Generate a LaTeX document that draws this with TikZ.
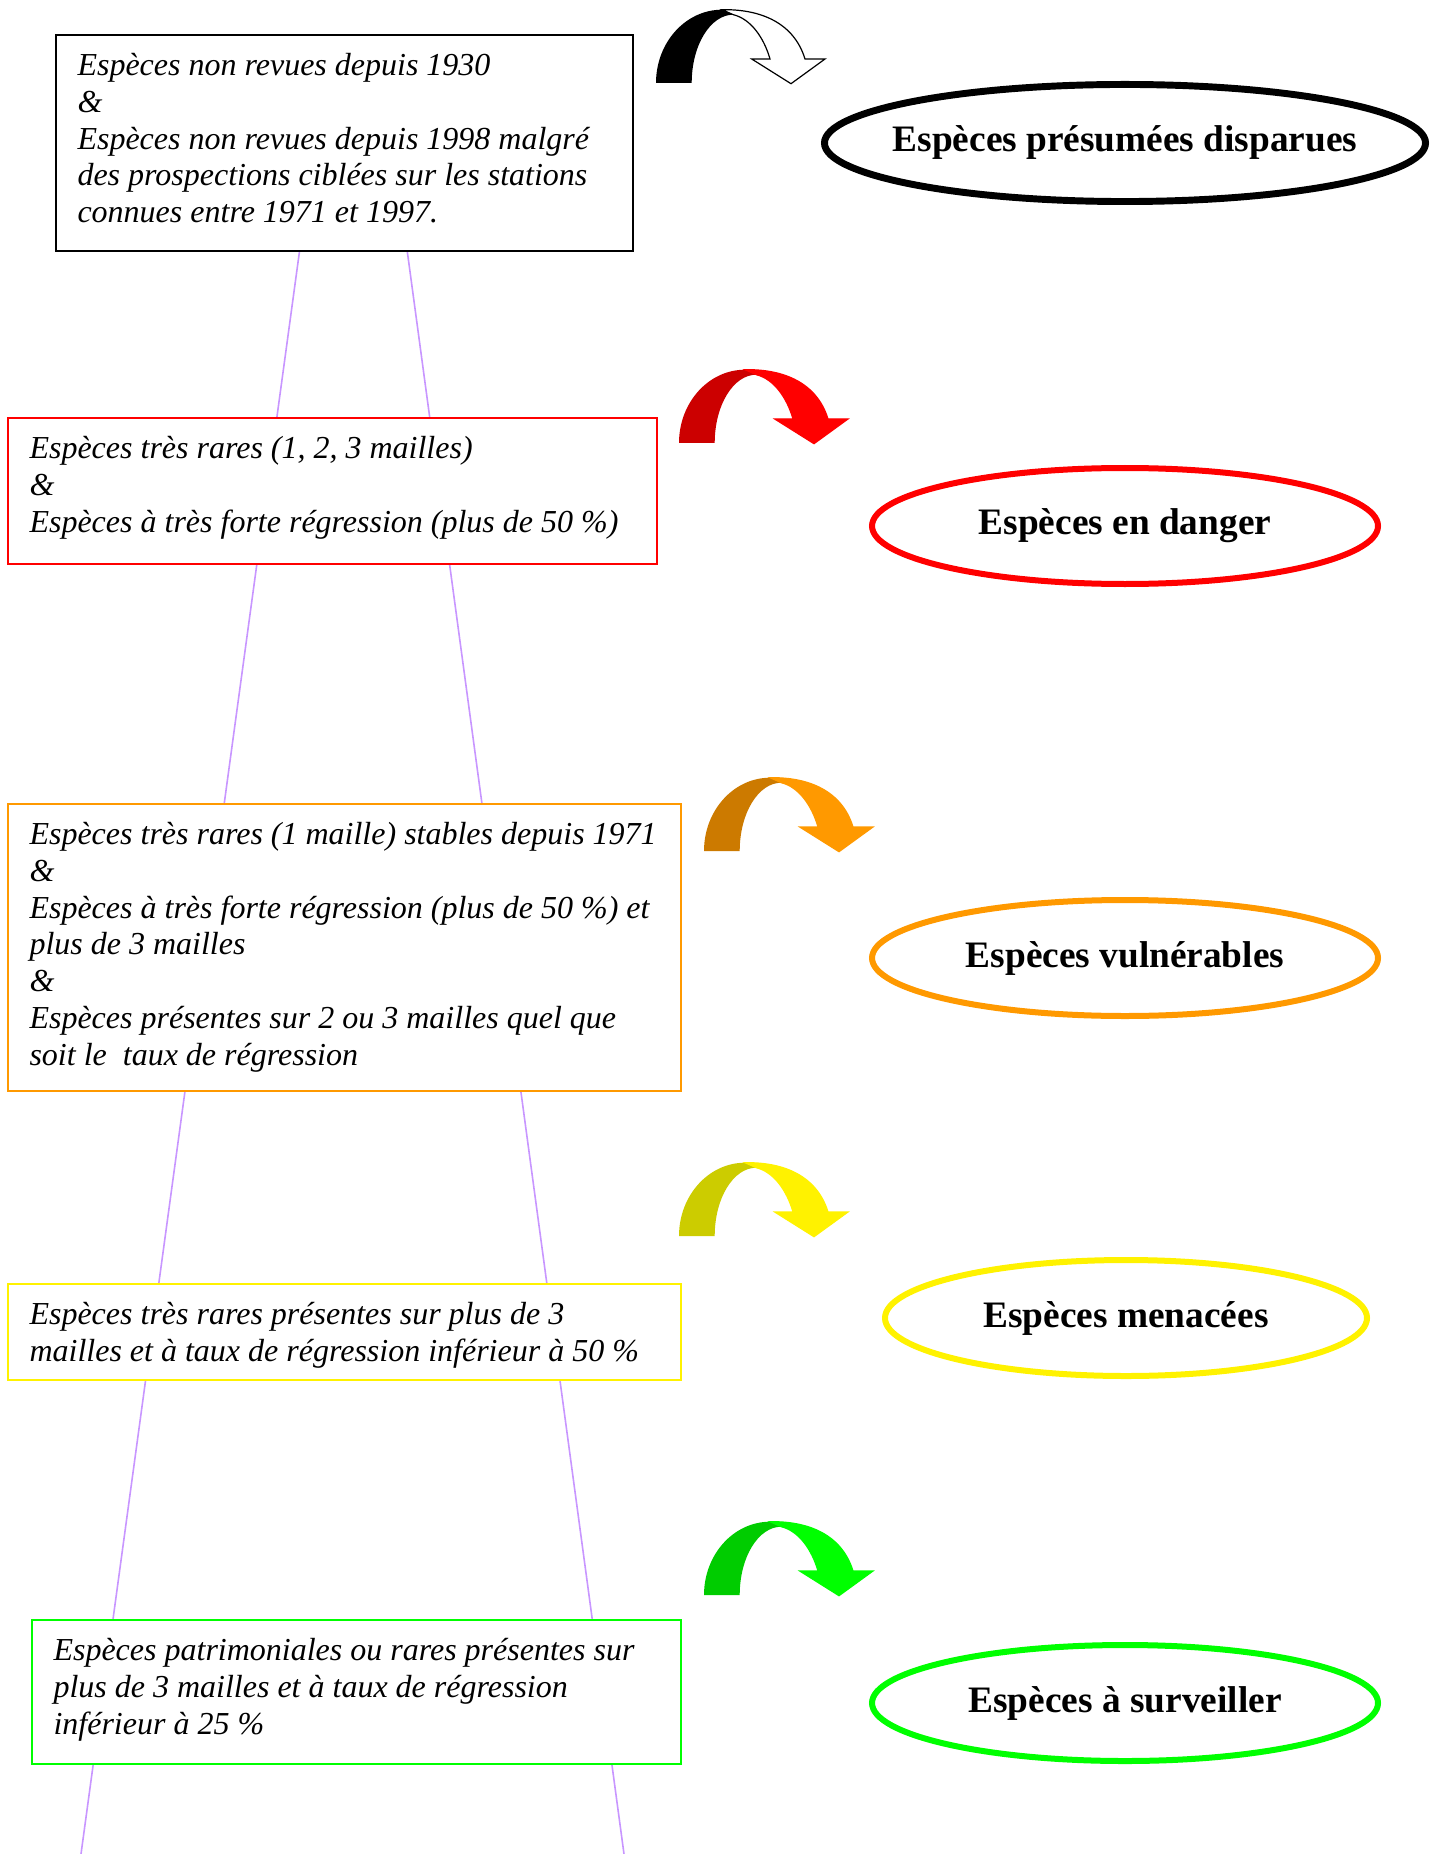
\documentclass[tikz,border=0pt]{standalone}
\usepackage{fontspec}
\setmainfont{Liberation Serif}
\usetikzlibrary{shapes.geometric}
\definecolor{lilac}{RGB}{200,150,255}
\definecolor{myorange}{RGB}{255,153,0}
\definecolor{darkorange}{RGB}{204,122,0}
\definecolor{darkred}{RGB}{204,0,0}
\definecolor{darkyellow}{RGB}{204,204,0}
\definecolor{mygreen}{RGB}{0,255,0}
\definecolor{darkgreen}{RGB}{0,204,0}
\newcommand\curvedarrow[4]{%
  \begin{scope}[shift={#1}]
    \fill[#2] (0,0) .. controls (0,-40.5) and (29.6,-73.3) .. (66,-73.3)
      -- (77.3,-68.3) .. controls (54.3,-68.3) and (35.7,-37.7) .. (35.7,0) -- cycle;
    \filldraw[fill=#3, draw=#4, line width=0.45pt, line join=miter]
      (66,-73.3) .. controls (105,-74) and (138,-60) .. (149,-24)
      -- (169,-24) -- (135,0.7) -- (95.7,-24) -- (114,-24)
      .. controls (108,-45) and (95,-64) .. (77.3,-68.3) -- cycle;
  \end{scope}}
\begin{document}
\begin{tikzpicture}[x=0.375pt,y=-0.375pt,
  critbox/.style={draw=#1, line width=0.75pt, fill=white, rectangle, inner sep=0pt, outer sep=0pt, anchor=north west},
  crittext/.style={anchor=north west, inner sep=0pt, align=left, font=\fontsize{12pt}{13.8pt}\selectfont\itshape},
  catell/.style={draw=#1, line width=2.25pt, ellipse, inner sep=0pt, fill=white},
  cattext/.style={font=\fontsize{14pt}{16pt}\selectfont\bfseries, inner sep=0pt},
  guide/.style={draw=lilac, line width=0.6pt}]
\useasboundingbox (0,0) rectangle (1440,1854);

% guide lines behind the boxes
\coordinate (gl1) at (329,35);
\coordinate (gl2) at (81,1854);
\coordinate (gr1) at (378,35);
\coordinate (gr2) at (624,1854);
\draw[guide] (gl1) -- (gl2);
\draw[guide] (gr1) -- (gr2);

% criteria boxes
\node[critbox=black, minimum width=216.4pt, minimum height=81pt] (b1) at (56,35) {};
\node[crittext] (t1) at ([shift={(21,8)}]b1.north west)
  {\rule{0pt}{12pt}Espèces non revues depuis 1930\\ \&\\ Espèces non revues depuis 1998 malgré\\ des prospections ciblées sur les stations\\ connues entre 1971 et 1997.};

\node[critbox=red, minimum width=243.4pt, minimum height=54.75pt] (b2) at (8,418) {};
\node[crittext] (t2) at ([shift={(21,8)}]b2.north west)
  {\rule{0pt}{12pt}Espèces très rares (1, 2, 3 mailles)\\ \&\\ Espèces à très forte régression (plus de 50 \%)};

\node[critbox=myorange, minimum width=252.4pt, minimum height=107.6pt] (b3) at (8,804) {};
\node[crittext] (t3) at ([shift={(21,8)}]b3.north west)
  {\rule{0pt}{12pt}Espèces très rares (1 maille) stables depuis 1971\\ \&\\ Espèces à très forte régression (plus de 50 \%) et\\ plus de 3 mailles\\ \&\\ Espèces présentes sur 2 ou 3 mailles quel que\\ soit le~ taux de régression};

\node[critbox=yellow, minimum width=252.4pt, minimum height=36pt] (b4) at (8,1284) {};
\node[crittext] (t4) at ([shift={(21,8)}]b4.north west)
  {\rule{0pt}{12pt}Espèces très rares présentes sur plus de 3\\ mailles et à taux de régression inférieur à 50 \%};

\node[critbox=mygreen, minimum width=243.4pt, minimum height=54pt] (b5) at (32,1620) {};
\node[crittext] (t5) at ([shift={(21,8)}]b5.north west)
  {\rule{0pt}{12pt}Espèces patrimoniales ou rares présentes sur\\ plus de 3 mailles et à taux de régression\\ inférieur à 25 \%};

% curved arrows
\curvedarrow{(656,83)}{black}{white}{black}
\curvedarrow{(679,443)}{darkred}{red}{red}
\curvedarrow{(704,851)}{darkorange}{myorange}{myorange}
\curvedarrow{(679,1236)}{darkyellow}{yellow}{yellow}
\curvedarrow{(704,1595)}{darkgreen}{mygreen}{mygreen}

% category ellipses
\node[catell=black, line width=2.6pt, minimum width=225.4pt, minimum height=43.9pt] (e1) at (1125,143) {};
\node[cattext] at (e1) {Espèces présumées disparues};
\node[catell=red, minimum width=189.75pt, minimum height=43.5pt] (e2) at (1125,526) {};
\node[cattext] at (e2) {Espèces en danger};
\node[catell=myorange, minimum width=189.75pt, minimum height=43.5pt] (e3) at (1125,958) {};
\node[cattext] at (e3) {Espèces vulnérables};
\node[catell=yellow, minimum width=180.75pt, minimum height=43.5pt] (e4) at (1126,1318) {};
\node[cattext] at (e4) {Espèces menacées};
\node[catell=mygreen, minimum width=189.75pt, minimum height=43.5pt] (e5) at (1125,1703) {};
\node[cattext] at (e5) {Espèces à surveiller};
\end{tikzpicture}
\end{document}
